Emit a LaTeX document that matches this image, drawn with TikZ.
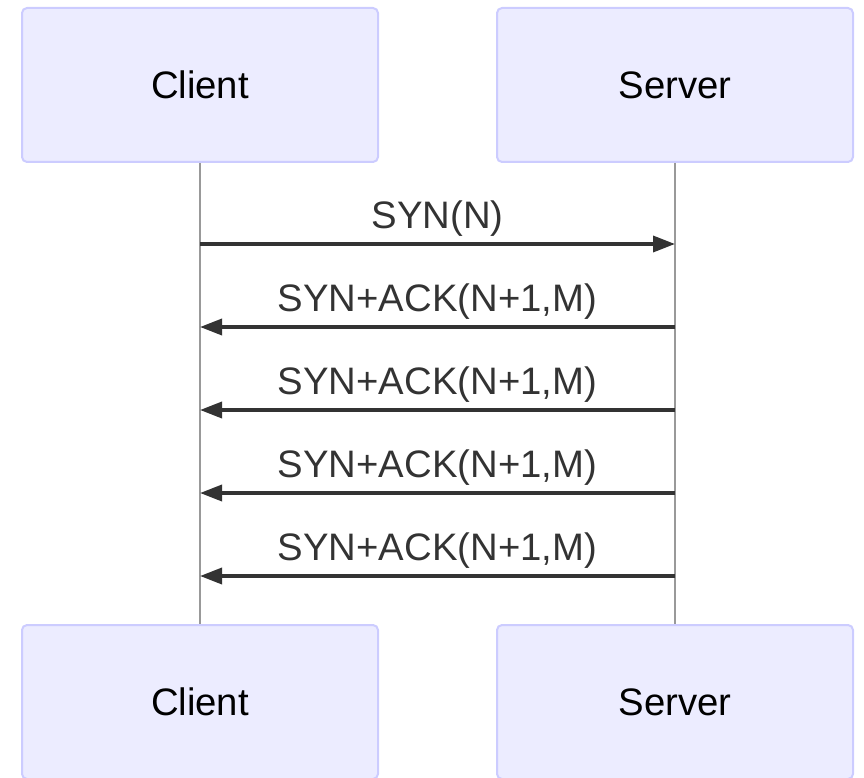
\documentclass[tikz,border=0pt]{standalone}
\usepackage{fontspec}
\setmainfont{Liberation Sans}
\usetikzlibrary{arrows.meta}
\definecolor{boxfill}{HTML}{ECECFF}
\definecolor{boxline}{HTML}{CCCCFF}
\definecolor{msgc}{HTML}{333333}
\definecolor{lifec}{HTML}{999999}
\newcommand{\lbl}{\fontsize{38.3}{46}\selectfont}
\begin{document}
\begin{tikzpicture}[x=1pt,y=-1pt,actor/.style={shape=rectangle,rounded corners=5pt,draw=boxline,fill=boxfill,line width=2pt,minimum width=356pt,minimum height=154pt,inner sep=0pt,font=\lbl},msg/.style={draw=msgc,line width=3.5pt,-{Triangle[length=22pt,width=16pt]}},msgl/.style={anchor=base,text=msgc,font=\lbl},life/.style={draw=lifec,line width=1.3pt}]
\def\xc{200};
\def\xs{675};
\def\xm{437.5};
\def\dy{83};
\def\ya{244};

\useasboundingbox (0,0) rectangle (864,778);

\node[actor] (C1) at (\xc,85) {Client};
\node[actor] (S1) at (\xs,85) {Server};
\node[actor] (C2) at (\xc,702) {Client};
\node[actor] (S2) at (\xs,702) {Server};

\draw[life] (C1.south) -- (C2.north);
\draw[life] (S1.south) -- (S2.north);

\coordinate (c1) at (\xc,\ya);
\coordinate (s1) at (\xs,\ya);
\draw[msg] (c1) -- (s1);
\node[msgl] (m1) at (\xm,\ya-16) {SYN(N)};

\coordinate (c2) at (\xc,\ya+\dy);
\coordinate (s2) at (\xs,\ya+\dy);
\draw[msg] (s2) -- (c2);
\node[msgl] (m2) at (\xm,\ya+\dy-16) {SYN+ACK(N+1,M)};

\coordinate (c3) at (\xc,\ya+2*\dy);
\coordinate (s3) at (\xs,\ya+2*\dy);
\draw[msg] (s3) -- (c3);
\node[msgl] (m3) at (\xm,\ya+2*\dy-16) {SYN+ACK(N+1,M)};

\coordinate (c4) at (\xc,\ya+3*\dy);
\coordinate (s4) at (\xs,\ya+3*\dy);
\draw[msg] (s4) -- (c4);
\node[msgl] (m4) at (\xm,\ya+3*\dy-16) {SYN+ACK(N+1,M)};

\coordinate (c5) at (\xc,\ya+4*\dy);
\coordinate (s5) at (\xs,\ya+4*\dy);
\draw[msg] (s5) -- (c5);
\node[msgl] (m5) at (\xm,\ya+4*\dy-16) {SYN+ACK(N+1,M)};
\end{tikzpicture}
\end{document}
